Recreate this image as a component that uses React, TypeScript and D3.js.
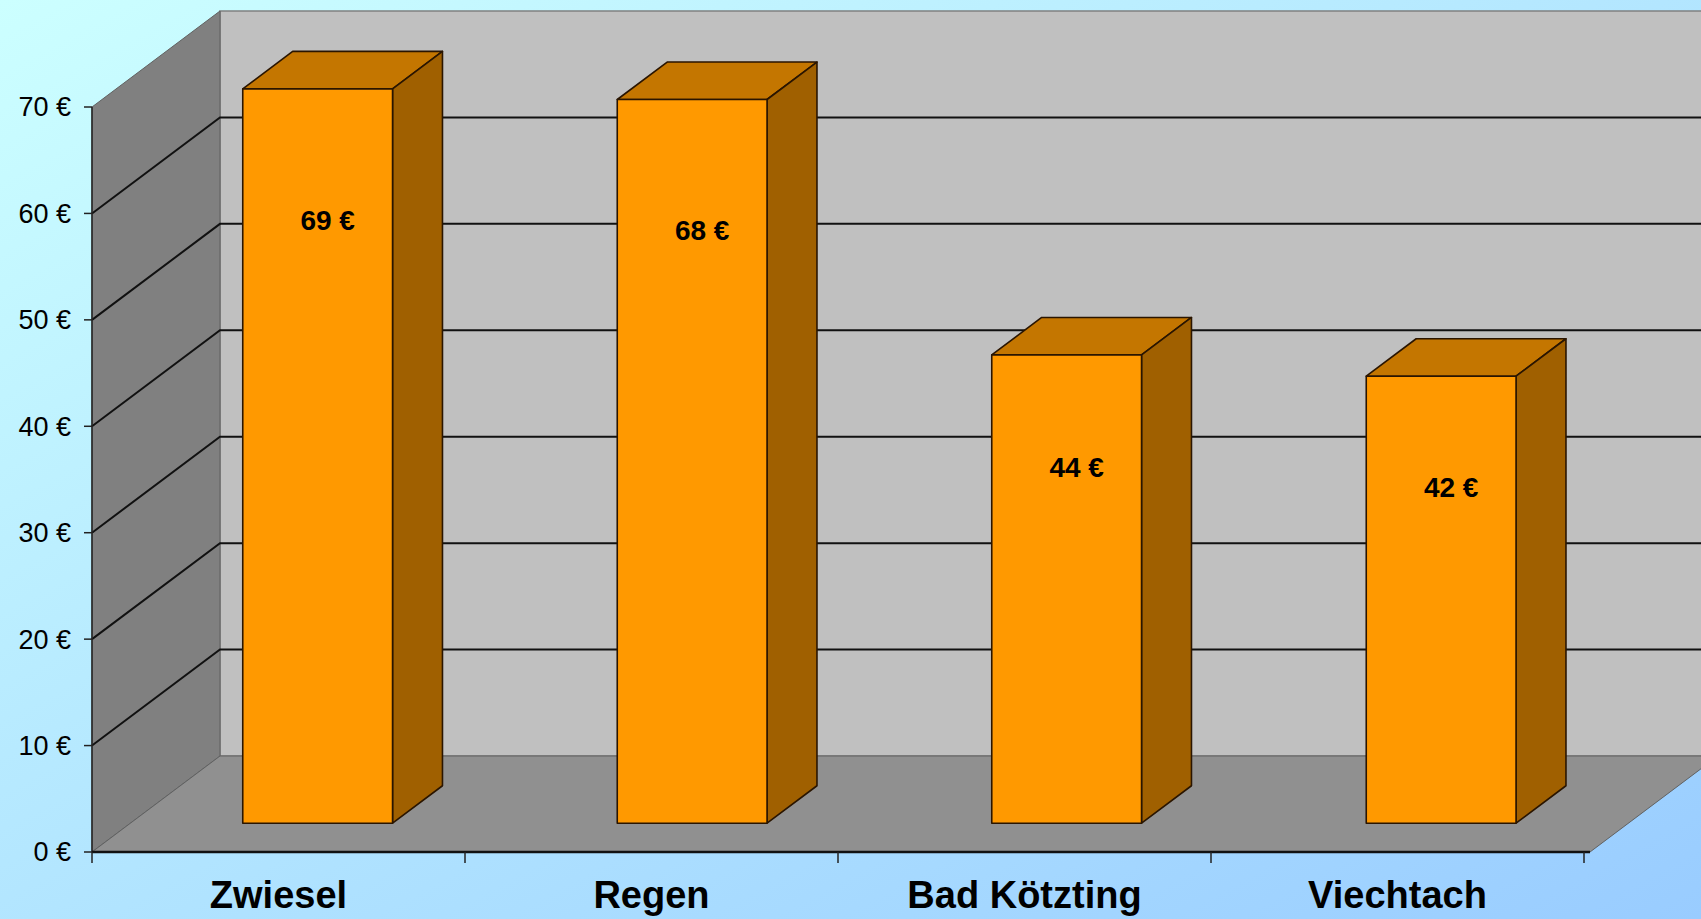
import * as d3 from "d3";

const categories = ["Zwiesel", "Regen", "Bad Kötzting", "Viechtach"];
const values = [69, 68, 44, 42];
const yTicks = [0, 10, 20, 30, 40, 50, 60, 70];

const W = 1701;
const H = 919;
const left = 92;
const right = 1590;
const axisRight = 1584;
const bottom = 852;
const top = 107;
const depthX = 128;
const depthY = 96;
const barFront = 0.3;
const barBack = 0.69;

const y = d3.scaleLinear().domain([0, 70]).range([bottom, top]);
const xBand = d3
  .scaleBand<string>()
  .domain(categories)
  .range([left, right])
  .paddingInner(0.6)
  .paddingOuter(0.3);
const xCat = d3.scaleBand<string>().domain(categories).range([left, axisRight]);

// projected point: front-plane x, value, depth fraction (0 = front, 1 = back wall)
const pt = (x: number, v: number, d: number): [number, number] => [
  x + d * depthX,
  y(v) - d * depthY,
];
const poly = (pts: [number, number][]) => d3.line()(pts) + "Z";

export default function App() {
  const vMax = y.domain()[1];
  const backWall = poly([pt(left, vMax, 1), pt(right, vMax, 1), pt(right, 0, 1), pt(left, 0, 1)]);
  const sideWall = poly([pt(left, vMax, 0), pt(left, vMax, 1), pt(left, 0, 1), pt(left, 0, 0)]);
  const floor = poly([pt(left, 0, 0), pt(left, 0, 1), pt(right, 0, 1), pt(right, 0, 0)]);
  const catEdges = [...categories.map((c) => xCat(c)!), axisRight];

  return (
    <svg
      width={W}
      height={H}
      style={{ position: "absolute", left: 0, top: 0 }}
      fontFamily="'Liberation Sans', Arial, sans-serif"
    >
      <defs>
        <linearGradient id="bg" x1="0" y1="0" x2="1" y2="1">
          <stop offset="0%" stopColor="#CCFFFF" />
          <stop offset="100%" stopColor="#99CCFF" />
        </linearGradient>
      </defs>
      <rect width={W} height={H} fill="url(#bg)" />

      {/* walls */}
      <path d={backWall} fill="#C0C0C0" stroke="#808080" strokeWidth={1.5} />
      <path d={sideWall} fill="#808080" stroke="#606060" strokeWidth={1} />
      <path d={floor} fill="#909090" stroke="#606060" strokeWidth={1} />

      {/* gridlines */}
      {yTicks
        .filter((t) => t > 0 && t < vMax)
        .map((t) => (
          <path
            key={t}
            d={d3.line()([pt(left, t, 0), pt(left, t, 1), pt(right, t, 1)])!}
            fill="none"
            stroke="#111"
            strokeWidth={2}
          />
        ))}

      {/* bars */}
      {categories.map((c, i) => {
        const x0 = xBand(c)!;
        const x1 = x0 + xBand.bandwidth();
        const v = values[i];
        const front = poly([pt(x0, v, barFront), pt(x1, v, barFront), pt(x1, 0, barFront), pt(x0, 0, barFront)]);
        const topFace = poly([pt(x0, v, barFront), pt(x0, v, barBack), pt(x1, v, barBack), pt(x1, v, barFront)]);
        const side = poly([pt(x1, v, barFront), pt(x1, v, barBack), pt(x1, 0, barBack), pt(x1, 0, barFront)]);
        const [lx] = pt((x0 + x1) / 2, v, barFront);
        const [, ly] = pt(x0, v * 0.93 - 7.5, barFront);
        return (
          <g key={c} stroke="#2a1500" strokeWidth={1.6} strokeLinejoin="round">
            <path d={topFace} fill="#C47600" />
            <path d={side} fill="#A06000" />
            <path d={front} fill="#FF9900" />
            <text
              x={lx + 10}
              y={ly}
              dy="0.35em"
              textAnchor="middle"
              fontSize={28}
              fontWeight="bold"
              stroke="none"
              fill="#000"
            >
              {`${v} €`}
            </text>
          </g>
        );
      })}

      {/* axes */}
      <line x1={left} x2={left} y1={top} y2={bottom} stroke="#222" strokeWidth={1.5} />
      <line x1={left} x2={right} y1={bottom} y2={bottom} stroke="#111" strokeWidth={2.5} />
      {yTicks.map((t) => (
        <g key={t}>
          <line x1={left - 8} x2={left} y1={y(t)} y2={y(t)} stroke="#222" strokeWidth={1.5} />
          <text x={left - 21} y={y(t)} dy="0.35em" textAnchor="end" fontSize={27} fill="#000">
            {`${t} €`}
          </text>
        </g>
      ))}
      {catEdges.map((x, i) => (
        <line key={i} x1={x} x2={x} y1={bottom} y2={bottom + 11} stroke="#222" strokeWidth={1.5} />
      ))}
      {categories.map((c) => (
        <text
          key={c}
          x={xCat(c)! + xCat.bandwidth() / 2}
          y={908}
          textAnchor="middle"
          fontSize={38}
          fontWeight="bold"
          fill="#000"
        >
          {c}
        </text>
      ))}
    </svg>
  );
}
